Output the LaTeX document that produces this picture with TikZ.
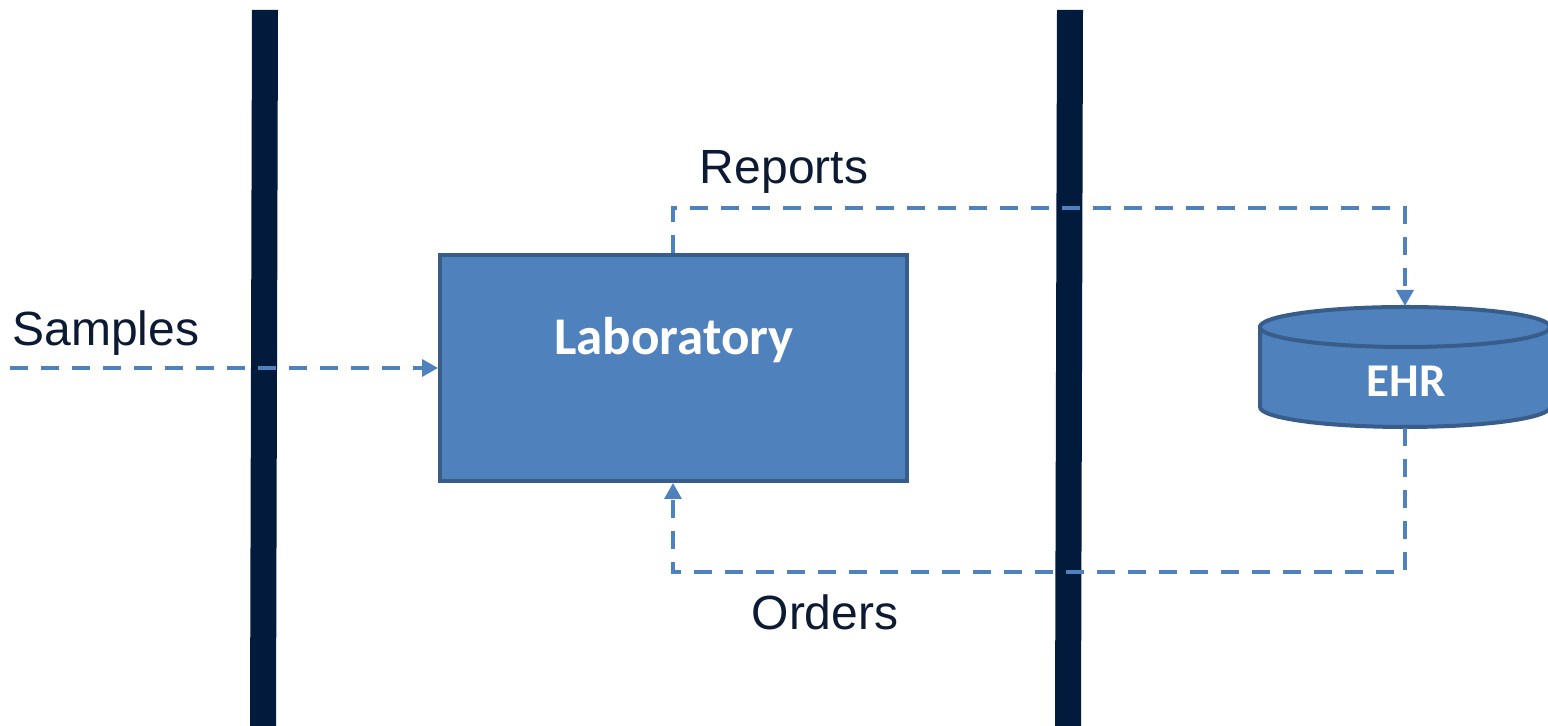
\documentclass[tikz,border=0pt]{standalone}
\usepackage{fontspec}
\setmainfont{Liberation Sans}
\newfontfamily\calfont{Carlito}
\usetikzlibrary{arrows.meta}
\definecolor{boxfill}{HTML}{4F81BD}
\definecolor{boxedge}{HTML}{385D8A}
\definecolor{barcol}{HTML}{021A3C}
\definecolor{txtcol}{HTML}{0C1B33}
\tikzset{
  flow/.style={draw=boxfill, line width=1.75pt, dash pattern=on 9pt off 6.5pt},
  flowarrow/.style={flow, -{Triangle[length=8pt,width=8.5pt]}},
  label/.style={text=txtcol, font=\fontsize{24}{28}\selectfont, inner sep=0pt},
  inner/.style={text=white, font=\calfont\bfseries\fontsize{26.5}{30}\selectfont, inner sep=0pt},
  bar/.style={fill=barcol, draw=none},
}
\begin{document}
\begin{tikzpicture}[x=0.5pt,y=0.5pt]
\useasboundingbox (0,0) rectangle (1548,726);
% vertical bars
\fill[bar] (252,716) -- (278,716) -- (276,0) -- (250,0) -- cycle;
\fill[bar] (1057,716) -- (1083,716) -- (1081,0) -- (1055,0) -- cycle;
% laboratory box
\node[draw=boxedge, fill=boxfill, line width=2pt, minimum width=233.5pt, minimum height=113pt, inner sep=0pt] (lab) at (673.5,358) {};
\node[inner] (labtext) at (674,386) {Laboratory};
% EHR cylinder
\filldraw[fill=boxfill, draw=boxedge, line width=2pt]
  (1260,399) -- (1260,319) arc[start angle=180, end angle=360, x radius=145, y radius=20] -- (1550,399) -- cycle;
\filldraw[fill=boxfill, draw=boxedge, line width=2pt]
  (1405,399) ellipse[x radius=145, y radius=20];
\node[inner, font=\calfont\bfseries\fontsize{23.5}{27}\selectfont] (ehr) at (1406,345) {EHR};
\coordinate (ehrtop) at (1405,420);
\coordinate (ehrbot) at (1405,298);
\coordinate (src) at (10,358);
% connectors
\draw[flowarrow] (src) -- (lab.west);
\draw[flowarrow] (lab.north -| 673,0) -- (673,518) -- (1405,518) -- (ehrtop);
\draw[flowarrow] (ehrbot) -- (1405,154) -- (673,154) -- (lab.south -| 673,0);
% labels
\node[label, anchor=west] (samples) at (12,393) {Samples};
\node[label] (reports) at (784,554) {Reports};
\node[label] (orders) at (825,114) {Orders};
\end{tikzpicture}
\end{document}
